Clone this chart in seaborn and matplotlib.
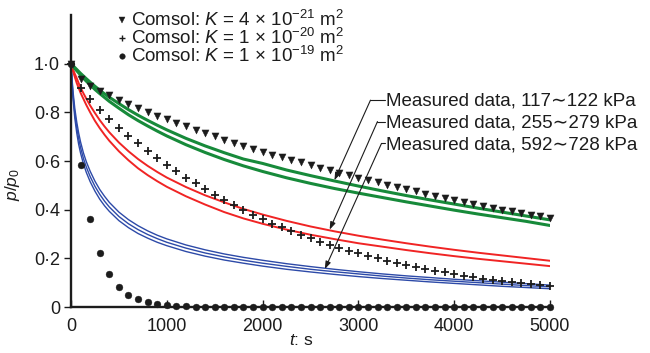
import matplotlib
matplotlib.use("Agg")
import matplotlib.pyplot as plt
import seaborn as sns
import pandas as pd

# ---- simulated pressure decay (COMSOL), sampled every 100 s ----
t_comsol = list(range(0, 5001, 100))
comsol_k4e21 = [1.0, 0.935, 0.910, 0.889, 0.870, 0.851, 0.833, 0.816, 0.801, 0.786,
                0.771, 0.756, 0.742, 0.728, 0.715, 0.701, 0.687, 0.674, 0.661, 0.649,
                0.638, 0.626, 0.615, 0.604, 0.594, 0.583, 0.573, 0.562, 0.552, 0.542,
                0.532, 0.523, 0.513, 0.503, 0.494, 0.484, 0.475, 0.466, 0.457, 0.448,
                0.440, 0.431, 0.423, 0.415, 0.407, 0.400, 0.393, 0.386, 0.379, 0.372,
                0.366]
comsol_k1e20 = [1.0, 0.900, 0.853, 0.810, 0.771, 0.737, 0.703, 0.673, 0.640, 0.612,
                0.584, 0.557, 0.532, 0.508, 0.484, 0.461, 0.439, 0.418, 0.398, 0.378,
                0.360, 0.343, 0.327, 0.311, 0.296, 0.282, 0.269, 0.256, 0.244, 0.232,
                0.221, 0.211, 0.201, 0.191, 0.182, 0.173, 0.165, 0.157, 0.150, 0.143,
                0.136, 0.129, 0.123, 0.117, 0.112, 0.107, 0.102, 0.097, 0.093, 0.089,
                0.085]
comsol_k1e19 = [1.0, 0.585, 0.363, 0.222, 0.137, 0.084, 0.051, 0.032, 0.019, 0.012,
                0.007, 0.004, 0.003, 0.002, 0.001, 0.0, 0.0, 0.0, 0.0, 0.0,
                0.0, 0.0, 0.0, 0.0, 0.0, 0.0, 0.0, 0.0, 0.0, 0.0,
                0.0, 0.0, 0.0, 0.0, 0.0, 0.0, 0.0, 0.0, 0.0, 0.0,
                0.0, 0.0, 0.0, 0.0, 0.0, 0.0, 0.0, 0.0, 0.0, 0.0,
                0.0]

# ---- measured pressure decay ----
t_meas = [0, 20, 40, 60, 80, 100, 130, 160, 200, 250, 300, 350, 400, 500, 600, 700,
          800, 900, 1000, 1200, 1400, 1600, 1800, 2000, 2250, 2500, 2750, 3000,
          3250, 3500, 3750, 4000, 4250, 4500, 4750, 5000]
green_a = [1.0, 0.992, 0.984, 0.976, 0.968, 0.960, 0.949, 0.938, 0.924, 0.907, 0.891,
           0.876, 0.862, 0.836, 0.811, 0.788, 0.767, 0.747, 0.728, 0.693, 0.662,
           0.634, 0.608, 0.590, 0.563, 0.540, 0.518, 0.497, 0.477, 0.458, 0.440,
           0.423, 0.406, 0.390, 0.374, 0.358]
green_b = [1.0, 0.990, 0.980, 0.971, 0.962, 0.953, 0.940, 0.928, 0.913, 0.894, 0.877,
           0.861, 0.845, 0.817, 0.790, 0.766, 0.744, 0.723, 0.703, 0.667, 0.635,
           0.606, 0.580, 0.557, 0.531, 0.508, 0.487, 0.468, 0.450, 0.432, 0.415,
           0.398, 0.382, 0.367, 0.352, 0.335]
red_a = [1.0, 0.978, 0.958, 0.940, 0.920, 0.902, 0.878, 0.856, 0.828, 0.797, 0.768,
         0.742, 0.718, 0.676, 0.640, 0.608, 0.580, 0.555, 0.532, 0.493, 0.459,
         0.430, 0.403, 0.380, 0.354, 0.331, 0.311, 0.293, 0.277, 0.262, 0.248,
         0.235, 0.223, 0.212, 0.201, 0.190]
red_b = [1.0, 0.970, 0.945, 0.920, 0.900, 0.880, 0.855, 0.830, 0.800, 0.765, 0.735,
         0.708, 0.683, 0.640, 0.603, 0.570, 0.542, 0.517, 0.494, 0.455, 0.421,
         0.390, 0.364, 0.342, 0.318, 0.297, 0.279, 0.262, 0.248, 0.234, 0.221,
         0.209, 0.198, 0.188, 0.178, 0.168]
blue_a = [1.0, 0.890, 0.815, 0.760, 0.715, 0.678, 0.633, 0.597, 0.558, 0.517, 0.483,
          0.455, 0.430, 0.390, 0.359, 0.334, 0.313, 0.295, 0.280, 0.255, 0.235,
          0.218, 0.204, 0.192, 0.178, 0.166, 0.155, 0.145, 0.136, 0.128, 0.121,
          0.114, 0.108, 0.102, 0.096, 0.090]
blue_b = [1.0, 0.875, 0.795, 0.737, 0.692, 0.655, 0.610, 0.575, 0.536, 0.496, 0.463,
          0.435, 0.411, 0.372, 0.342, 0.318, 0.298, 0.281, 0.266, 0.242, 0.222,
          0.206, 0.192, 0.180, 0.167, 0.155, 0.145, 0.136, 0.127, 0.119, 0.112,
          0.106, 0.100, 0.094, 0.088, 0.083]
blue_c = [1.0, 0.860, 0.775, 0.715, 0.668, 0.632, 0.588, 0.553, 0.515, 0.476, 0.443,
          0.416, 0.393, 0.355, 0.326, 0.302, 0.283, 0.266, 0.252, 0.228, 0.209,
          0.193, 0.180, 0.168, 0.155, 0.144, 0.134, 0.125, 0.117, 0.110, 0.103,
          0.097, 0.091, 0.085, 0.080, 0.075]

legend_labels = [r"Comsol: $K$ = 4 $\times$ 10$^{-21}$ m$^{2}$",
                 r"Comsol: $K$ = 1 $\times$ 10$^{-20}$ m$^{2}$",
                 r"Comsol: $K$ = 1 $\times$ 10$^{-19}$ m$^{2}$"]
measured_labels = ["Measured data, 117\u223c122 kPa",
                   "Measured data, 255\u223c279 kPa",
                   "Measured data, 592\u223c728 kPa"]
y_ticks = [0, 0.2, 0.4, 0.6, 0.8, 1.0]
y_ticklabels = ["0", "0\u00b72", "0\u00b74", "0\u00b76", "0\u00b78", "1\u00b70"]
x_ticks = [0, 1000, 2000, 3000, 4000, 5000]

sns.set_style("ticks")
plt.rcParams["font.family"] = ["Liberation Sans", "DejaVu Sans"]
plt.rcParams["mathtext.fontset"] = "custom"
plt.rcParams["mathtext.rm"] = "Liberation Sans"
plt.rcParams["mathtext.it"] = "Liberation Sans:italic"
plt.rcParams["mathtext.bf"] = "Liberation Sans:bold"
plt.rcParams["axes.unicode_minus"] = True

GREEN = "#178a3a"
RED = "#f02424"
BLUE = "#2d4aa8"
INK = "#1c1c1c"

W, H = 650, 353
fig = plt.figure(figsize=(W / 100, H / 100), dpi=100)
ax = fig.add_axes([71 / W, 46 / H, 479 / W, 292 / H])

meas = pd.DataFrame({"t": t_meas, "ga": green_a, "gb": green_b, "ra": red_a,
                     "rb": red_b, "ba": blue_a, "bb": blue_b, "bc": blue_c})
for col, color, lw in [("ba", BLUE, 1.0), ("bb", BLUE, 1.0), ("bc", BLUE, 1.0),
                       ("ra", RED, 1.4), ("rb", RED, 1.4),
                       ("ga", GREEN, 2.2), ("gb", GREEN, 2.2)]:
    sns.lineplot(data=meas, x="t", y=col, color=color, linewidth=lw, ax=ax,
                 legend=False, zorder=2)

sim = pd.DataFrame({"t": t_comsol, "k1": comsol_k4e21, "k2": comsol_k1e20,
                    "k3": comsol_k1e19})
sns.scatterplot(data=sim, x="t", y="k1", marker="v", s=26, color=INK,
                edgecolor=INK, linewidth=0.3, ax=ax, zorder=4, clip_on=False,
                legend=False)
sns.scatterplot(data=sim, x="t", y="k2", marker="+", s=30, color=INK,
                linewidth=1.3, ax=ax, zorder=4, clip_on=False, legend=False)
sns.scatterplot(data=sim, x="t", y="k3", marker="o", s=24, color=INK,
                edgecolor=INK, linewidth=0.3, ax=ax, zorder=4, clip_on=False,
                legend=False)

ax.set_xlim(0, 5000)
ax.set_ylim(0, 1.2)
ax.set_xticks(x_ticks)
ax.set_yticks(y_ticks)
ax.set_yticklabels(y_ticklabels)
ax.tick_params(axis="x", direction="in", length=5, width=1.0, labelsize=13,
               pad=8, colors=INK)
ax.tick_params(axis="y", direction="out", length=5, width=1.0, labelsize=13,
               pad=3, colors=INK)
for side in ("top", "right"):
    ax.spines[side].set_visible(False)
for side in ("left", "bottom"):
    ax.spines[side].set_linewidth(1.7)
    ax.spines[side].set_color(INK)

ax.set_xlabel("$t$: s", fontsize=12.5, color=INK)
ax.xaxis.set_label_coords((301 - 71) / 479, -(333 - 307) / 292)
ax.set_ylabel("$p$/$p_{0}$", fontsize=12.5, color=INK)
ax.yaxis.set_label_coords((22 - 71) / 479, (307 - 185) / 292)

# key for the simulated series (marker + label rows in the top-left corner)
key_markers = [("v", 4.5, 0.3), ("+", 4.0, 1.0), ("o", 4.0, 0.3)]
key_baselines = [26, 44, 62]
for (mk, ms, mew), base, lab in zip(key_markers, key_baselines, legend_labels):
    ax.plot([122 / W], [1 - (base - 6) / H], marker=mk, markersize=ms,
            markeredgewidth=mew, color=INK, linestyle="none",
            transform=fig.transFigure, clip_on=False)
    fig.text(131 / W, 1 - base / H, lab, fontsize=13.5, va="baseline",
             ha="left", color=INK)

# leader lines with arrows pointing to the measured curves
tips = [(2750, 0.521), (2700, 0.318), (2650, 0.156)]
elbows = [(3126, 0.850), (3199, 0.762), (3241, 0.672)]
text_y = [0.847, 0.757, 0.667]
text_x = 3290
for (tx, ty), (ex, ey), ly, lab in zip(tips, elbows, text_y, measured_labels):
    ax.annotate("", xy=(tx, ty), xytext=(ex, ey),
                arrowprops=dict(arrowstyle="-|>,head_length=0.45,head_width=0.16",
                                color=INK, lw=0.8, shrinkA=0, shrinkB=0),
                annotation_clip=False, zorder=5)
    ax.plot([ex, text_x - 10], [ey, ey], color=INK, lw=0.8, clip_on=False,
            zorder=5)
    ax.text(text_x, ly, lab, fontsize=13.5, va="center", ha="left", color=INK,
            clip_on=False)

fig.savefig("out.png", dpi=100)
